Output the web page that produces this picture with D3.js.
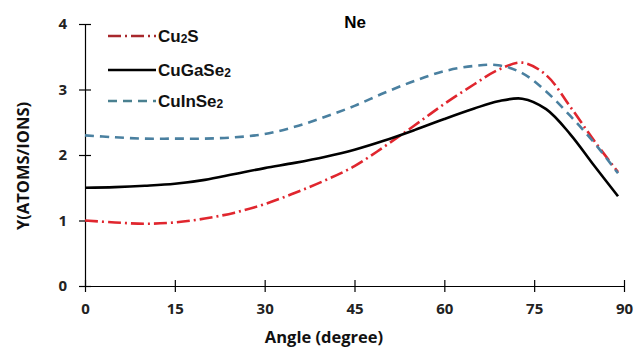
<!DOCTYPE html>
<html><head><meta charset="utf-8">
<script src="https://cdn.jsdelivr.net/npm/d3@7"></script>
<style>body{margin:0;background:#fff}svg{display:block}</style>
</head><body>
<svg id="c" width="641" height="354"></svg>
<script>
const angles = [0,5,10,15,20,25,30,35,40,45,50,55,60,65,69,73,77,81,85,89];
const cu2s   = [1.0,0.97,0.95,0.97,1.03,1.12,1.25,1.42,1.61,1.83,2.13,2.45,2.78,3.08,3.30,3.41,3.22,2.74,2.22,1.74];
const cugase = [1.5,1.51,1.53,1.56,1.62,1.71,1.80,1.88,1.97,2.08,2.22,2.38,2.55,2.71,2.82,2.86,2.70,2.32,1.84,1.37];
const cuinse = [2.3,2.27,2.25,2.25,2.25,2.27,2.32,2.43,2.58,2.75,2.95,3.13,3.28,3.36,3.37,3.25,2.97,2.60,2.19,1.72];
const xTicks = [0,15,30,45,60,75,90];
const yTicks = [0,1,2,3,4];
const seriesNames = [["Cu","2","S"],["CuGaSe","2",""],["CuInSe","2",""]];

const svg = d3.select("#c");
const x = d3.scaleLinear().domain([0,90]).range([85,624]);
const y = d3.scaleLinear().domain([0,4]).range([286,24]);

const series = [
  {name:seriesNames[0], vals:cu2s, color:"#e0262e", dash:"13,4,2,4", lcolor:"#a8282c"},
  {name:seriesNames[1], vals:cugase, color:"#000", dash:null, lcolor:"#000"},
  {name:seriesNames[2], vals:cuinse, color:"#4a80a0", dash:"9,6", lcolor:"#4a8090"}
];

const gx = svg.append("g").attr("transform","translate(0,286)")
  .call(d3.axisBottom(x).tickValues(xTicks).tickFormat(d3.format("d")).tickSizeInner(6).tickSizeOuter(0).tickPadding(11));
gx.selectAll(".tick line").attr("y1",-6);
const gy = svg.append("g").attr("transform","translate(85,0)")
  .call(d3.axisLeft(y).tickValues(yTicks).tickFormat(d3.format("d")).tickSizeInner(6).tickSizeOuter(0).tickPadding(12));
gy.selectAll(".tick line").attr("x1",6).attr("x2",-6);
svg.selectAll(".domain").attr("stroke","#000").attr("stroke-width",1.2);
svg.selectAll(".tick line").attr("stroke","#000").attr("stroke-width",1.2);
svg.selectAll(".tick text").attr("font-family","Open Sans, Liberation Sans, sans-serif")
  .attr("font-size",15).attr("font-weight","bold").attr("fill","#222");

const line = d3.line().x((d,i)=>x(angles[i])).y(d=>y(d)).curve(d3.curveCatmullRom.alpha(0.5));
series.forEach(s=>{
  svg.append("path").attr("d",line(s.vals)).attr("fill","none")
    .attr("stroke",s.color).attr("stroke-width",2.6)
    .attr("stroke-dasharray",s.dash);
});

const ly = [36,70,101];
series.forEach((s,i)=>{
  svg.append("line").attr("x1",108).attr("x2",156).attr("y1",ly[i]).attr("y2",ly[i])
    .attr("stroke",s.lcolor).attr("stroke-width",2.6).attr("stroke-dasharray",s.dash);
  const t = svg.append("text").attr("x",158).attr("y",ly[i]+6)
    .attr("font-family","Liberation Sans, Arial, sans-serif").attr("font-size",17)
    .attr("font-weight","bold").attr("fill","#111");
  t.append("tspan").text(s.name[0]);
  t.append("tspan").attr("font-size",12).attr("dy",1).text(s.name[1]);
  if (s.name[2]) t.append("tspan").attr("dy",-1).text(s.name[2]);
});

svg.append("text").attr("x",355).attr("y",28).attr("text-anchor","middle")
  .attr("font-family","Liberation Sans, Arial, sans-serif").attr("font-size",17)
  .attr("font-weight","bold").text("Ne");

svg.append("text").attr("x",324).attr("y",343).attr("text-anchor","middle")
  .attr("font-family","Open Sans, Liberation Sans, sans-serif").attr("font-size",16.5)
  .attr("font-weight","bold").attr("fill","#111").text("Angle (degree)");
svg.append("text").attr("transform","translate(29,166) rotate(-90)").attr("text-anchor","middle")
  .attr("font-family","Open Sans, Liberation Sans, sans-serif").attr("font-size",16.5)
  .attr("font-weight","bold").attr("fill","#111").text("Y(ATOMS/IONS)");
</script>
</body></html>
